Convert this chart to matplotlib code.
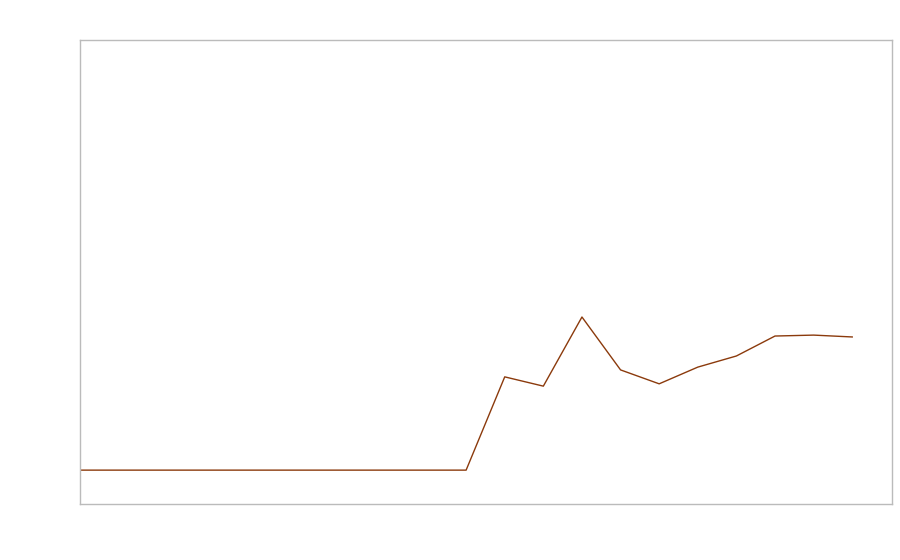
import matplotlib
matplotlib.use('Agg')
import matplotlib.pyplot as plt

# values (0-100 scale of the plot height)
steps = list(range(21))
values = [7.3] * 11 + [27.4, 25.4, 40.3, 28.9, 25.9, 29.5, 31.9, 36.2, 36.4, 36.0]


def main():
    fig = plt.figure(figsize=(9, 5.6), dpi=100)
    ax = fig.add_axes([80 / 900, 56 / 560, 812 / 900, 464 / 560])
    ax.plot(steps, values, '-', color='#8b3a0c', lw=1)
    ax.set_xlim(0, 21.03)
    ax.set_ylim(0, 100)
    ax.set_xticks([])
    ax.set_yticks([])
    for s in ax.spines.values():
        s.set_color('#bbbbbb')
        s.set_linewidth(1)
    fig.savefig('out.png', dpi=100)


if __name__ == "__main__":
    main()
